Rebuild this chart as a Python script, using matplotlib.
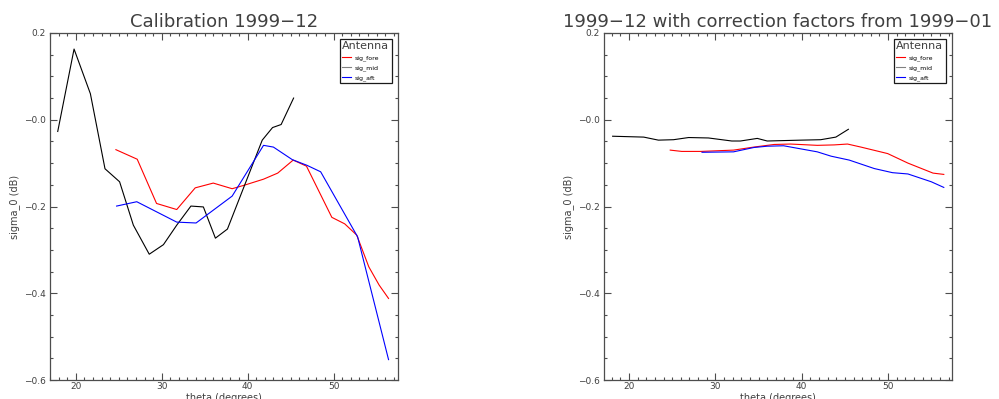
import matplotlib
matplotlib.use("Agg")
import matplotlib.pyplot as plt
from matplotlib.ticker import MultipleLocator, FixedLocator, FixedFormatter

# sigma_0 vs incidence angle, calibration 1999-12 (left) and corrected (right)
cal_fore_theta = [24.67, 27.15, 29.4, 31.75, 33.9, 36.0, 38.2, 39.6, 41.85, 43.5,
                  45.3, 46.85, 49.8, 51.3, 52.7, 54.1, 55.3, 56.4]
cal_fore_sigma = [-0.069, -0.091, -0.193, -0.207, -0.157, -0.146, -0.159, -0.151, -0.137, -0.123,
                  -0.093, -0.107, -0.225, -0.240, -0.266, -0.339, -0.381, -0.412]

cal_mid_theta = [17.9, 19.8, 21.7, 23.4, 25.1, 26.7, 28.55, 30.2, 31.75, 33.4,
                 34.85, 36.25, 37.65, 41.7, 42.9, 43.9, 45.35]
cal_mid_sigma = [-0.027, 0.163, 0.060, -0.113, -0.143, -0.243, -0.310, -0.288, -0.243, -0.199,
                 -0.201, -0.273, -0.252, -0.047, -0.018, -0.011, 0.050]

cal_aft_theta = [24.75, 27.1, 31.75, 34.0, 38.2, 41.85, 43.0, 45.2, 46.9, 48.5, 52.8, 56.4]
cal_aft_sigma = [-0.199, -0.189, -0.236, -0.238, -0.176, -0.059, -0.063, -0.092, -0.105, -0.120,
                 -0.270, -0.553]

cor_fore_theta = [24.77, 26.1, 28.3, 32.1, 34.45, 36.8, 38.7, 41.8, 43.75, 45.3,
                  46.85, 49.95, 52.3, 55.2, 56.45]
cor_fore_sigma = [-0.070, -0.073, -0.073, -0.070, -0.063, -0.057, -0.056, -0.059, -0.058, -0.056,
                  -0.063, -0.078, -0.100, -0.123, -0.126]

cor_mid_theta = [18.1, 21.7, 23.4, 25.15, 26.9, 29.2, 31.9, 32.9, 34.85, 36.0,
                 39.9, 42.2, 43.95, 45.4]
cor_mid_sigma = [-0.038, -0.040, -0.047, -0.046, -0.041, -0.042, -0.049, -0.049, -0.043, -0.049,
                 -0.047, -0.046, -0.040, -0.022]

cor_aft_theta = [28.45, 32.1, 34.45, 36.0, 37.9, 41.8, 43.4, 45.5, 48.4, 50.5,
                 52.3, 55.0, 56.45]
cor_aft_sigma = [-0.075, -0.074, -0.064, -0.061, -0.060, -0.074, -0.084, -0.093, -0.1125, -0.122,
                 -0.125, -0.143, -0.156]

titles = ["Calibration 1999\u221212", "1999\u221212 with correction factors from 1999\u221201"]
antennas = ["sig_fore", "sig_mid", "sig_aft"]
ytick_vals = [-0.6, -0.4, -0.2, 0.0, 0.2]
ytick_text = ["\u22120.6", "\u22120.4", "\u22120.2", "\u22120.0", "0.2"]

panels = [
    ([cal_fore_theta, cal_mid_theta, cal_aft_theta],
     [cal_fore_sigma, cal_mid_sigma, cal_aft_sigma], (17.0, 57.5)),
    ([cor_fore_theta, cor_mid_theta, cor_aft_theta],
     [cor_fore_sigma, cor_mid_sigma, cor_aft_sigma], (17.1, 57.4)),
]
colors = ["#ff0000", "#000000", "#0000ff"]

fig = plt.figure(figsize=(9.99, 3.99), dpi=100)
fig.patch.set_facecolor("white")
axes_rects = [[50 / 999, 1 - 380 / 399, 348 / 999, 347 / 399],
              [604 / 999, 1 - 380 / 399, 348 / 999, 347 / 399]]
spine_col = "0.3"
text_col = "0.25"

for rect, title, (thetas, sigmas, xlim) in zip(axes_rects, titles, panels):
    ax = fig.add_axes(rect)
    lines = []
    for th, sg, c, name in zip(thetas, sigmas, colors, antennas):
        ln, = ax.plot(th, sg, color=c, lw=0.8, label=name)
        lines.append(ln)

    ax.set_xlim(*xlim)
    ax.set_ylim(-0.6, 0.2)
    ax.xaxis.set_major_locator(MultipleLocator(10))
    ax.xaxis.set_minor_locator(MultipleLocator(1))
    ax.yaxis.set_major_locator(FixedLocator(ytick_vals))
    ax.yaxis.set_major_formatter(FixedFormatter(ytick_text))
    ax.yaxis.set_minor_locator(MultipleLocator(0.05))
    ax.tick_params(which="both", direction="in", top=True, right=True,
                   color=spine_col, width=0.8, labelsize=6.5, labelcolor=text_col)
    ax.tick_params(which="major", length=5)
    ax.tick_params(which="minor", length=2.5)
    ax.tick_params(axis="x", pad=1.5)
    ax.tick_params(axis="y", pad=3)
    for sp in ax.spines.values():
        sp.set_color(spine_col)
        sp.set_linewidth(0.9)

    ax.set_title(title, fontsize=13, color=text_col, pad=4.5)
    ax.set_xlabel("theta (degrees)", fontsize=7, color=text_col)
    ax.set_ylabel("sigma_0 (dB)", fontsize=7, color=text_col)
    ax.xaxis.set_label_coords(0.5, -0.037)
    ax.yaxis.set_label_coords(-0.087, 0.5)

    leg = ax.legend(handles=lines, title="Antenna", loc="upper right",
                    bbox_to_anchor=(0.982, 0.983), fontsize=4.5, title_fontsize=8,
                    alignment="left", fancybox=False, framealpha=1,
                    edgecolor="0.1", handlelength=1.4, handletextpad=0.6,
                    labelspacing=0.6, borderpad=0.4, borderaxespad=0)
    leg.get_frame().set_linewidth(0.9)
    leg.get_lines()[1].set_color("0.5")
    leg.get_title().set_color(text_col)

fig.savefig("out.png", dpi=100)
